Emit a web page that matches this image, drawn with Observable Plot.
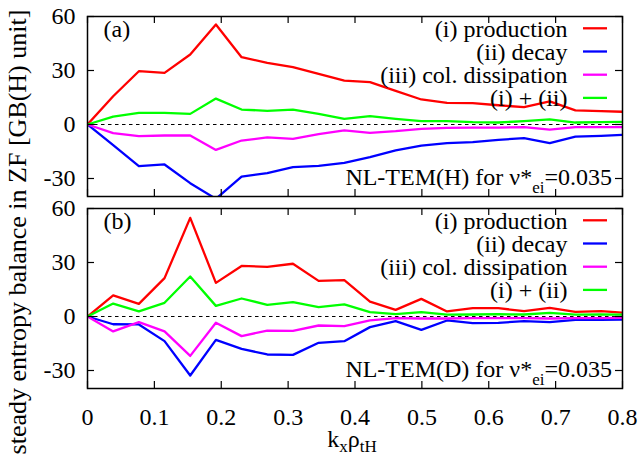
<!DOCTYPE html>
<html><head><meta charset="utf-8">
<script src="https://cdn.jsdelivr.net/npm/d3@7"></script>
<script src="https://cdn.jsdelivr.net/npm/@observablehq/plot@0.6"></script>
<style>
body{margin:0;background:#fff;}
#chart{position:relative;width:641px;height:457px;}
#chart svg{display:block;}
#chart svg, #chart svg text, #chart svg tspan, #chart svg g{font-family:"Liberation Serif","Times New Roman",serif !important;}
#overlay{position:absolute;left:0;top:0;pointer-events:none;}
</style></head><body><div id="chart"></div>
<script>
// ---- data ----
const kx = [0, 0.0384, 0.0768, 0.1152, 0.1536, 0.192, 0.2304, 0.2688, 0.3072, 0.3456, 0.384,
            0.4224, 0.4608, 0.4992, 0.5376, 0.576, 0.6144, 0.6528, 0.6912, 0.7296, 0.768, 0.8064];
const seriesNames = ["(i) production", "(ii) decay", "(iii) col. dissipation", "(i) + (ii)"];
const seriesColors = ["#ff0000", "#0000ff", "#ff00ff", "#00ff00"];

// panel (a): NL-TEM(H)
const prodA  = [0, 15.7, 29.6, 28.7, 38.9, 55.6, 37.4, 34.3, 31.9, 28.1, 24.4, 23.5, 18.7, 13.9, 12.0, 11.9, 10.7, 9.6, 12.8, 7.8, 7.4, 7.0];
const decayA = [0, -11.5, -23.1, -22.2, -32.6, -41.3, -28.9, -27.0, -23.7, -23.0, -21.3, -18.1, -14.4, -11.7, -10.4, -9.8, -8.5, -7.6, -10.4, -6.7, -6.3, -5.7];
const dissA  = [0, -4.8, -6.5, -6.1, -6.1, -14.1, -8.9, -7.2, -8.0, -5.4, -3.3, -4.6, -3.7, -2.4, -1.9, -1.7, -1.7, -1.5, -2.8, -1.5, -1.5, -1.5];
const sumA   = [0, 4.4, 6.5, 6.5, 5.9, 14.4, 8.3, 7.6, 8.3, 5.9, 3.1, 4.6, 3.1, 1.9, 1.9, 1.3, 1.1, 1.9, 2.8, 1.1, 1.3, 1.5];

// panel (b): NL-TEM(D)
const prodB  = [0, 11.7, 7.0, 21.3, 54.8, 18.7, 28.1, 27.6, 29.3, 19.8, 20.2, 8.3, 3.7, 9.8, 2.8, 4.6, 4.6, 3.0, 4.8, 2.6, 3.0, 2.0];
const decayB = [0, -4.3, -4.4, -13.7, -32.8, -13.0, -18.0, -21.1, -21.3, -14.6, -13.7, -5.9, -2.6, -7.4, -2.2, -3.7, -3.5, -2.6, -3.1, -1.9, -1.9, -1.7];
const dissB  = [0, -8.3, -3.1, -8.3, -21.9, -3.5, -10.9, -7.8, -8.0, -5.0, -5.4, -2.2, -0.9, -1.1, -1.1, -0.9, -0.9, -0.9, -1.1, -0.9, -0.9, -0.7];
const sumB   = [0, 7.2, 2.8, 7.6, 22.2, 5.9, 10.0, 6.5, 8.0, 5.2, 6.7, 2.4, 1.3, 2.4, 1.0, 1.1, 1.3, 1.1, 2.0, 1.0, 1.1, 1.0];

const xTicks = [0, 0.1, 0.2, 0.3, 0.4, 0.5, 0.6, 0.7, 0.8];
const yTicks = [-30, 0, 30, 60];
const panelLabels = ["(a)", "(b)"];
const noteA = ["NL-TEM(H) for ν*", "ei", "=0.035"];
const noteB = ["NL-TEM(D) for ν*", "ei", "=0.035"];
const yLabel = "steady entropy balance in ZF [GB(H) unit]";
const xLabelParts = ["k", "x", "ρ", "tH"];

// ---- drawing ----
const W = 641;
const FONT = '"Liberation Serif", "Times New Roman", serif';
const TICK = 7;

function rows(list) {
  return list.flatMap((vals, s) => vals.map((v, i) => ({kx: kx[i], v, s: seriesNames[s]})));
}

function richText(g, x, y, parts, size, subSize, shift, anchor) {
  const t = g.append("text").attr("x", x).attr("y", y).attr("text-anchor", anchor)
    .attr("font-size", size).attr("font-family", FONT).attr("fill", "black");
  let shifted = false;
  parts.forEach((p, i) => {
    const ts = t.append("tspan").text(p);
    if (i % 2 === 1) { ts.attr("font-size", subSize).attr("dy", shift); shifted = true; }
    else if (shifted) { ts.attr("dy", -shift); shifted = false; }
  });
  return t;
}

function panel(data, o) {
  const frameH = o.height - o.marginTop - o.marginBottom;
  const frameW = W - 87 - 19;
  return Plot.plot({
    width: W, height: o.height,
    marginLeft: 87, marginRight: 19, marginTop: o.marginTop, marginBottom: o.marginBottom,
    style: {fontFamily: FONT, fontSize: "24px", background: "white", overflow: "visible", color: "black"},
    x: {domain: [0, 0.8], ticks: xTicks, tickFormat: d => String(d), tickSize: 0, tickPadding: 19, label: null, axis: o.showX ? "bottom" : null},
    y: {domain: [-40, 60], ticks: yTicks, tickFormat: d => String(d), tickSize: 0, tickPadding: 12, label: null},
    color: {domain: seriesNames, range: seriesColors},
    marks: [
      Plot.ruleY([0], {stroke: "black", strokeWidth: 1, strokeDasharray: "3.5,3.5"}),
      Plot.line(data, {x: "kx", y: "v", z: "s", stroke: "s", strokeWidth: 2.3, clip: true}),
      Plot.ruleX(xTicks, {stroke: "black", strokeWidth: 1.2, insetTop: frameH - TICK}),
      Plot.ruleX(xTicks, {stroke: "black", strokeWidth: 1.2, insetBottom: frameH - TICK}),
      Plot.ruleY(yTicks, {stroke: "black", strokeWidth: 1.2, insetRight: frameW - TICK}),
      Plot.ruleY(yTicks, {stroke: "black", strokeWidth: 1.2, insetLeft: frameW - TICK}),
      Plot.frame({stroke: "black", strokeWidth: 1.5}),
      Plot.text([o.label], {text: d => d, frameAnchor: "top-left", dx: 16, dy: 13, textAnchor: "start", lineAnchor: "middle", fontSize: 24}),
      ...seriesNames.map((n, i) => Plot.text([n], {text: d => d, frameAnchor: "top-right", dx: -55, dy: 12.5 + 23.2 * i, textAnchor: "end", lineAnchor: "middle", fontSize: 24})),
      (index, scales, values, dims) => {
        const g = d3.create("svg:g");
        const right = dims.width - dims.marginRight;
        const top = dims.marginTop;
        const bottom = dims.height - dims.marginBottom;
        seriesColors.forEach((c, i) => {
          const y = top + 12.3 + 23.2 * i;
          g.append("line").attr("x1", right - 39).attr("x2", right - 15)
            .attr("y1", y).attr("y2", y).attr("stroke", c).attr("stroke-width", 2.3);
        });
        richText(g, right - 10, bottom - 11.3, o.note, 24, 17, 8, "end");
        return g.node();
      }
    ]
  });
}

const chart = document.getElementById("chart");
const A = panel(rows([prodA, decayA, dissA, sumA]), {height: 198, marginTop: 16, marginBottom: 2, showX: false, label: panelLabels[0], note: noteA});
const B = panel(rows([prodB, decayB, dissB, sumB]), {height: 259, marginTop: 10, marginBottom: 69, showX: true, label: panelLabels[1], note: noteB});
chart.appendChild(A);
chart.appendChild(B);

// overlay with axis titles
const ov = d3.create("svg").attr("id", "overlay").attr("width", W).attr("height", 457);
ov.append("text").attr("transform", "translate(26,232) rotate(-90)").attr("text-anchor", "middle")
  .attr("font-family", FONT).attr("font-size", 26).attr("fill", "black").text(yLabel);
richText(ov, 352, 446.5, xLabelParts, 24, 17, 5.5, "middle");
chart.appendChild(ov.node());
</script>
</body></html>
